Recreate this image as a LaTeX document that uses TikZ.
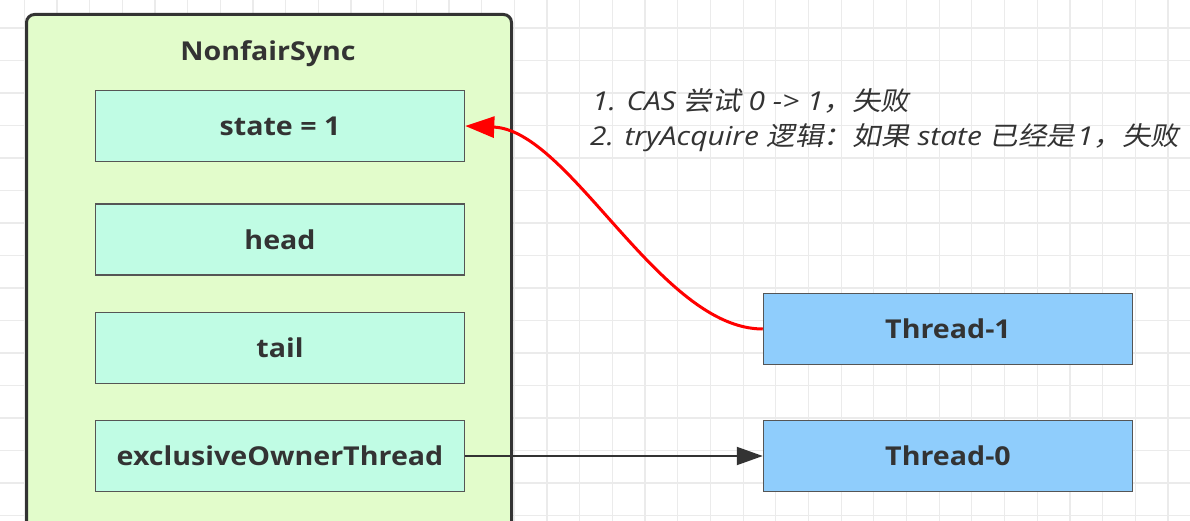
\documentclass[tikz,border=0pt]{standalone}
\usepackage{fontspec}
\setmainfont{Open Sans}
\newfontfamily\cjk[FakeSlant=0.2,FakeStretch=1.1]{Noto Sans CJK SC}
\newfontfamily\latit[FakeStretch=1.15]{Open Sans}
\newfontfamily\boxfont[FakeStretch=1.1]{Open Sans}
\newcommand\zh[1]{{\cjk #1}}
\newcommand\la[1]{{\latit\itshape #1}}
\usetikzlibrary{arrows.meta}
\definecolor{gridc}{HTML}{EBEBEB}
\definecolor{syncfill}{HTML}{E2FCCB}
\definecolor{fieldfill}{HTML}{C0FCE4}
\definecolor{threadfill}{HTML}{8FCDFC}
\definecolor{txt}{HTML}{333333}
\definecolor{boxline}{HTML}{555555}
\tikzset{
  gridline/.style={draw=gridc, line width=1.3pt},
  container/.style={draw=txt, fill=syncfill, line width=3pt, rounded corners=8pt, inner sep=0pt},
  titletext/.style={text=txt, font=\boxfont\fontsize{26}{30}\selectfont\bfseries, inner sep=0pt},
  field/.style={draw=boxline, fill=fieldfill, line width=1.5pt, minimum width=369pt, minimum height=71pt, inner sep=0pt, text=txt, font=\boxfont\fontsize{26}{30}\selectfont\bfseries},
  thread/.style={field, fill=threadfill},
  note/.style={text=txt, font=\fontsize{26}{30}\selectfont, inner sep=0pt, anchor=base west, text height=19pt, text depth=5pt},
  redarrow/.style={draw=red, line width=3pt, -{Triangle[length=29pt,width=21pt]}},
  blackarrow/.style={draw=txt, line width=2pt, -{Triangle[length=26pt,width=18pt]}},
}
\begin{document}
\begin{tikzpicture}[x=1pt,y=-1pt]
\useasboundingbox (0,0) rectangle (1190,521);
\clip (0,0) rectangle (1190,521);
\fill[white] (0,0) rectangle (1190,521);
\foreach \i in {0,...,36} \draw[gridline] ({24.4+32.67*\i},0) -- ++(0,521);
\foreach \j in {0,...,16} \draw[gridline] (0,{-4.5+32.5*\j}) -- ++(1190,0);
\node[container, minimum width=485pt, minimum height=560pt, anchor=north west] (sync) at (25,13) {};
\node[titletext] (title) at (268,54) {NonfairSync};
\node[field] (state) at (280,126) {state = 1};
\node[field] (head) at (280,239.5) {head};
\node[field] (tail) at (280,348) {tail};
\node[field] (owner) at (280,456) {exclusiveOwnerThread};
\node[thread] (t1) at (948,329) {Thread-1};
\node[thread] (t0) at (948,456) {Thread-0};
\node[note] (note1) at (592,111) {\la{1. CAS }\zh{尝试}\la{ 0 -> 1}\zh{，失败}};
\node[note] (note2) at (590,146) {\la{2. tryAcquire }\zh{逻辑：如果}\la{ state }\zh{已经是}\kern1.5pt\la{1}\zh{，失败}};
\draw[redarrow] (t1.west) .. controls (660,329) and (570,130) .. (state.east);
\draw[blackarrow] (owner.east) -- (t0.west);
\end{tikzpicture}
\end{document}
